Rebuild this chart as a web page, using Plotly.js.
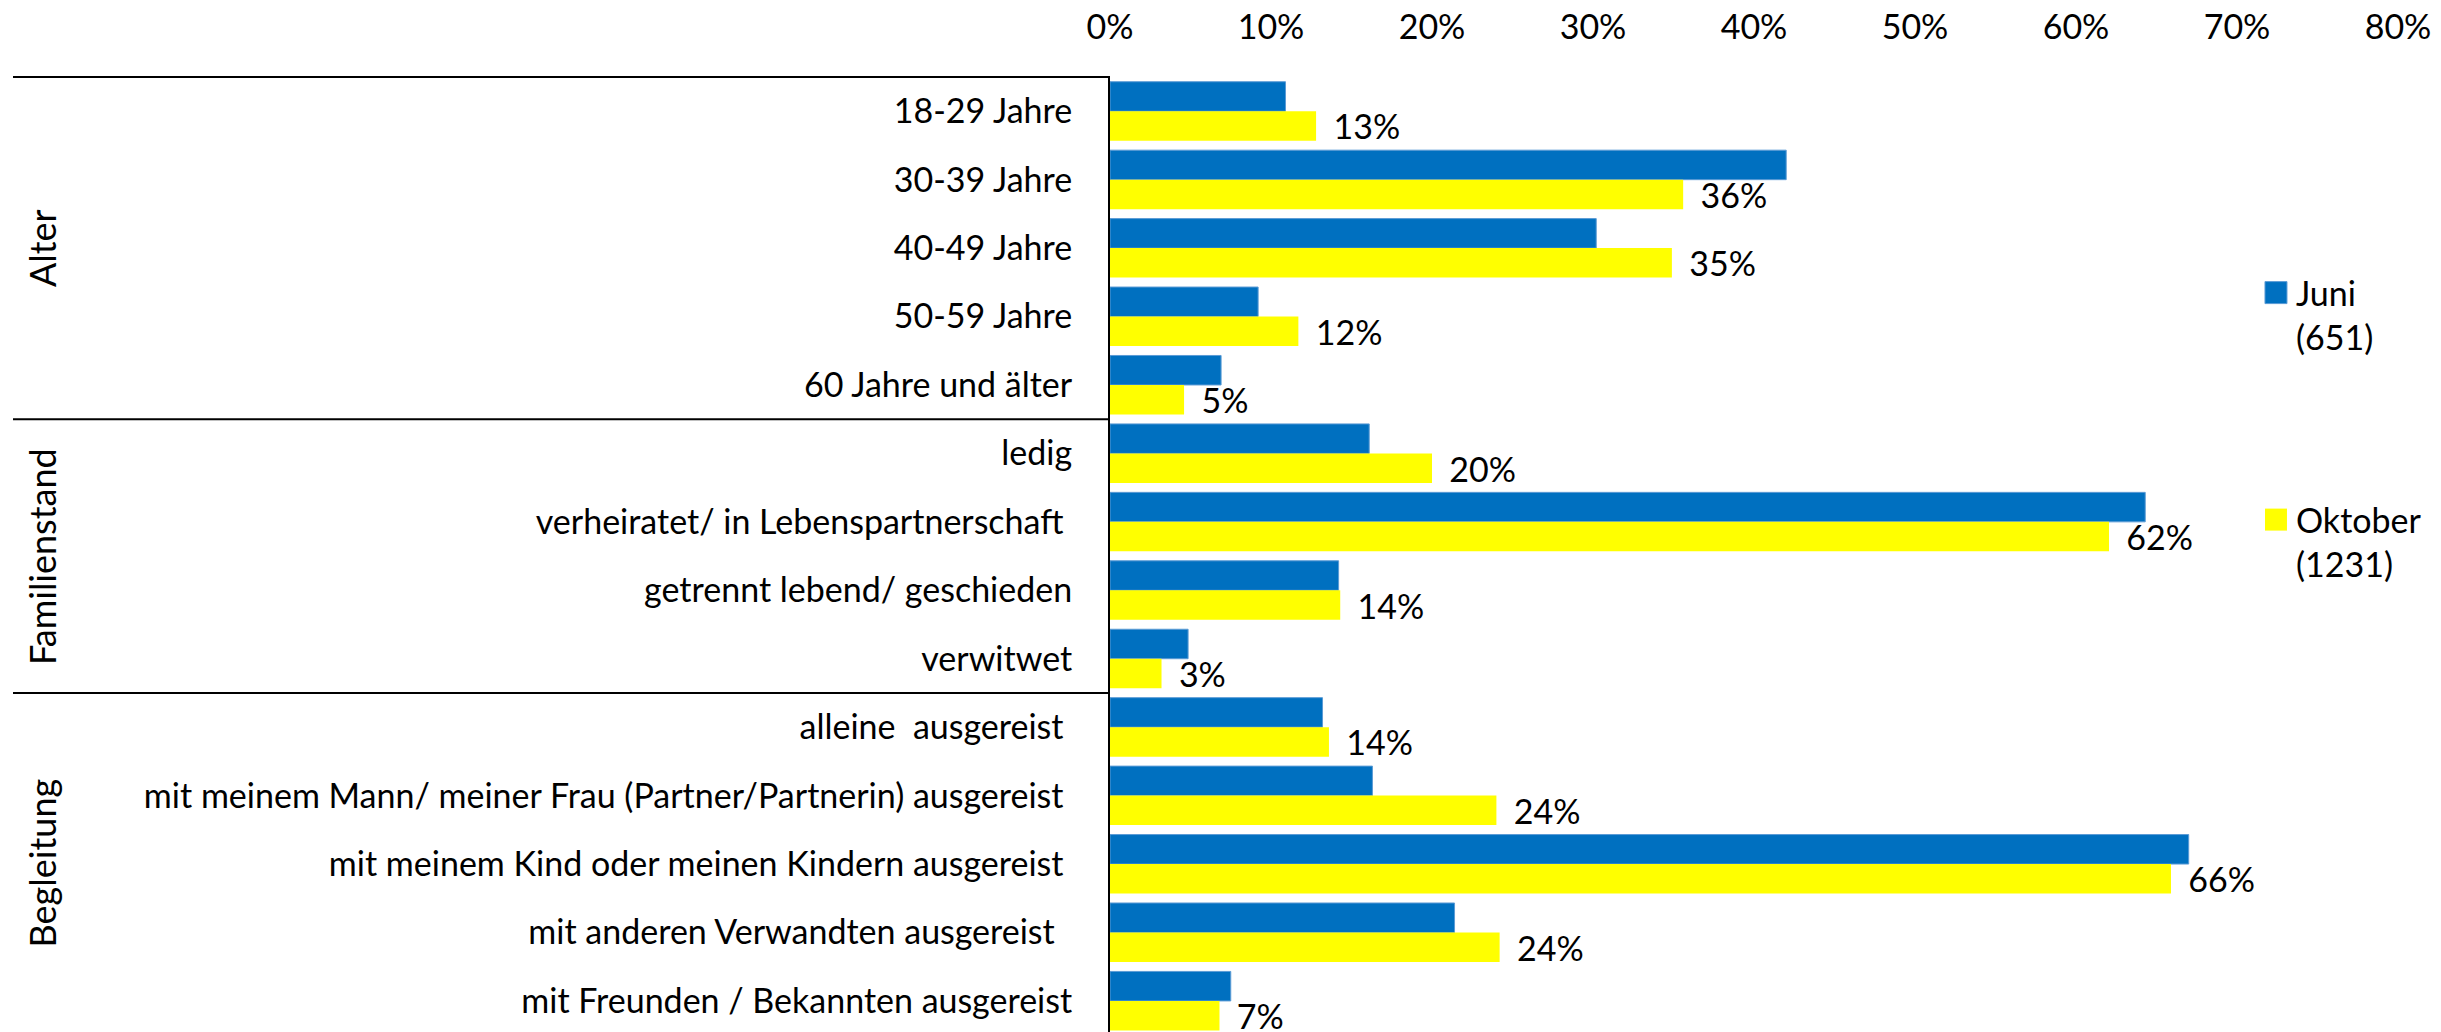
<!DOCTYPE html>
<html>
<head>
<meta charset="utf-8">
<script src="https://cdn.plot.ly/plotly-3.0.1.min.js"></script>
<style>
  html, body { margin: 0; padding: 0; background: #ffffff; }
  #chart { width: 2441px; height: 1032px; }
</style>
</head>
<body>
<div id="chart"></div>
<script>
// ---- data ----
const categories = [
  "18-29 Jahre",
  "30-39 Jahre",
  "40-49 Jahre",
  "50-59 Jahre",
  "60 Jahre und älter",
  "ledig",
  "verheiratet/ in Lebenspartnerschaft\u00a0",
  "getrennt lebend/ geschieden",
  "verwitwet",
  "alleine\u00a0 ausgereist\u00a0",
  "mit meinem Mann/ meiner Frau (Partner/Partnerin) ausgereist\u00a0",
  "mit meinem Kind oder meinen Kindern ausgereist\u00a0",
  "mit anderen Verwandten ausgereist\u00a0\u00a0",
  "mit Freunden / Bekannten ausgereist"
];
const juni = [10.9, 42.0, 30.2, 9.2, 6.9, 16.1, 64.3, 14.2, 4.85, 13.2, 16.3, 67.0, 21.4, 7.5];
const oktober = [12.8, 35.6, 34.9, 11.7, 4.6, 20.0, 62.05, 14.3, 3.2, 13.6, 24.0, 65.9, 24.2, 6.8];
const seriesNames = ["Juni<br>(651)", "Oktober<br>(1231)"];
const groupNames = ["Alter", "Familienstand", "Begleitung"];
const groupRanges = [[0, 4], [5, 8], [9, 13]];   // first and last category index of each group
const xTickVals = [0, 10, 20, 30, 40, 50, 60, 70, 80];
const xTickText = ["0%", "10%", "20%", "30%", "40%", "50%", "60%", "70%", "80%"];

// ---- styling ----
const FONT = "Lato, 'Open Sans', sans-serif";
const FS = 34;
const yTop = -0.5, yBottom = 13.454;   // visible category range (last band slightly cut)
const ySpan = yBottom - yTop;
const toPaperY = v => (yBottom - v) / ySpan;
const lineX0 = -0.8517;               // left end of group separators (paper)

const traces = [
  {
    type: "bar", orientation: "h", name: seriesNames[0],
    y: categories, x: juni,
    marker: { color: "#0070C0", line: { color: "#5B9BD5", width: 1 } },
    legend: "legend",
    hoverinfo: "skip"
  },
  {
    type: "bar", orientation: "h", name: seriesNames[1],
    y: categories, x: oktober,
    marker: { color: "#FFFF00", line: { width: 0 } },
    texttemplate: "\u00a0\u2006%{x:.0f}%",
    textposition: "outside",
    constraintext: "none",
    cliponaxis: false,
    textfont: { family: FONT, size: FS, color: "#000000" },
    legend: "legend2",
    hoverinfo: "skip"
  }
];

const shapes = [];
const boundaries = [groupRanges[0][0] - 0.5, groupRanges[1][0] - 0.5, groupRanges[2][0] - 0.5];
boundaries.forEach(b => {
  shapes.push({
    type: "line", xref: "paper", yref: "paper",
    x0: lineX0, x1: 0, y0: toPaperY(b), y1: toPaperY(b),
    line: { color: "#000000", width: 2 }
  });
});

const annotations = groupNames.map((g, i) => ({
  text: g, xref: "paper", yref: "paper",
  x: -0.8292, y: toPaperY((groupRanges[i][0] + Math.min(groupRanges[i][1] + 0.5, yBottom) - 0.5) / 2),
  textangle: -90, showarrow: false,
  xanchor: "center", yanchor: "middle",
  font: { family: FONT, size: 36, color: "#000000" }
}));

const layout = {
  width: 2441, height: 1032,
  margin: { l: 1110, r: 43, t: 77, b: 0, pad: 0, autoexpand: false },
  paper_bgcolor: "#ffffff", plot_bgcolor: "#ffffff",
  font: { family: FONT, size: FS, color: "#000000" },
  barmode: "group", bargap: 0.138, bargroupgap: 0,
  xaxis: {
    side: "top", range: [0, 80], tickmode: "array", tickvals: xTickVals, ticktext: xTickText,
    showgrid: false, zeroline: false, showline: false, ticks: "",
    ticklabelstandoff: 30,
    tickfont: { family: FONT, size: FS, color: "#000000" },
    fixedrange: true
  },
  yaxis: {
    type: "category", range: [yBottom, yTop],
    showgrid: false, zeroline: false, showline: true,
    linecolor: "#000000", linewidth: 2, ticks: "",
    ticklabelstandoff: 29,
    tickfont: { family: FONT, size: FS, color: "#000000" },
    fixedrange: true
  },
  showlegend: true,
  legend: {
    xref: "container", yref: "container",
    x: 0.9242, y: 1 - 264 / 1032, xanchor: "left", yanchor: "top",
    valign: "top", bgcolor: "rgba(0,0,0,0)", borderwidth: 0,
    font: { family: FONT, size: FS, color: "#000000" }
  },
  legend2: {
    xref: "container", yref: "container",
    x: 0.9242, y: 1 - 491 / 1032, xanchor: "left", yanchor: "top",
    valign: "top", bgcolor: "rgba(0,0,0,0)", borderwidth: 0,
    font: { family: FONT, size: FS, color: "#000000" }
  },
  shapes: shapes,
  annotations: annotations
};

Plotly.newPlot("chart", traces, layout, { staticPlot: true, displayModeBar: false }).then(gd => {
  // enlarge the legend squares to the reference size
  gd.querySelectorAll(".legendpoints path").forEach(p => {
    p.setAttribute("d", "M11,11H-11V-11H11Z");
  });
});
</script>
</body>
</html>
